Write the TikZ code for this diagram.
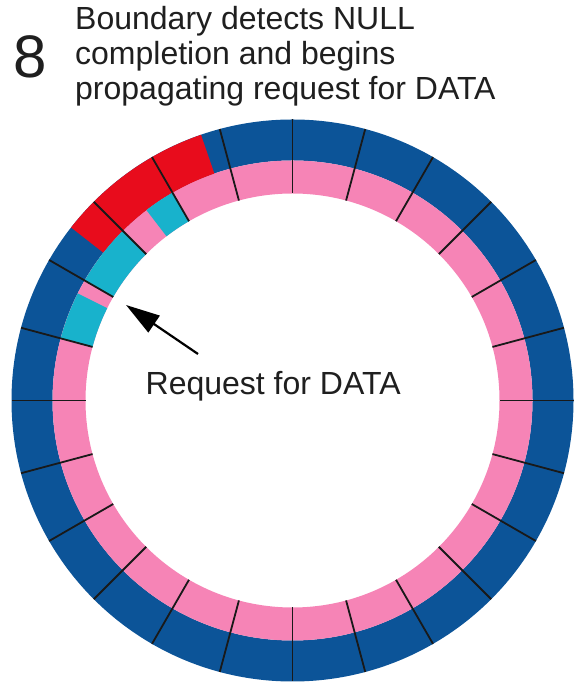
\documentclass[tikz,border=0pt]{standalone}
\usepackage{fontspec}
\setmainfont{Liberation Sans}
\usetikzlibrary{arrows.meta}

\definecolor{ringblue}{RGB}{12,84,152}
\definecolor{ringpink}{RGB}{246,132,182}
\definecolor{ringred}{RGB}{232,12,28}
\definecolor{ringcyan}{RGB}{24,178,204}

% annular sector: colour, start angle, end angle, inner radius, outer radius (pt)
\newcommand\ringpiece[5]{%
  \fill[#1] (#2:#5pt) arc[start angle=#2, end angle=#3, radius=#5pt]
    -- (#3:#4pt) arc[start angle=#3, end angle=#2, radius=#4pt] -- cycle;}

\tikzset{
  divider/.style={black!90, line width=1.8pt},
  pointer/.style={black, line width=2.2pt, -{Triangle[length=34pt, width=20pt]}},
  caption/.style={inner sep=0pt, anchor=base west, font=\fontsize{32}{35}\selectfont, text=black!88},
}

\begin{document}
\begin{tikzpicture}[x=1pt, y=1pt]
\useasboundingbox (0,0) rectangle (573,687);
\fill[white] (0,0) rectangle (573,687);

% heading
\node[caption, font=\fontsize{60}{60}\selectfont] (stepno) at (13,609) {8};
\node[caption] (head1) at (75,657) {Boundary detects NULL};
\node[caption] (head2) at (75,622) {completion and begins};
\node[caption] (head3) at (75,587) {propagating request for DATA};

% the two rings of stages
\begin{scope}[shift={(292.5,286.5)}]
  \ringpiece{ringblue}{0}{360}{240}{281}
  \ringpiece{ringpink}{0}{360}{207}{240}
  % NULL wavefront in the outer ring
  \ringpiece{ringred}{109}{142}{240}{281}
  % request for DATA in the inner ring
  \ringpiece{ringcyan}{120}{127.5}{207}{240}
  \ringpiece{ringcyan}{135}{150}{207}{240}
  \ringpiece{ringcyan}{153.5}{165}{207}{240}
  % stage boundaries
  \foreach \a in {0,15,...,345}
    \draw[divider] (\a:207pt) -- (\a:281pt);
\end{scope}

% label and pointer
\coordinate (arrowtail) at (198,333);
\coordinate (arrowtip) at (126,382);
\draw[pointer] (arrowtail) -- (arrowtip);
\node[caption] (req) at (145.5,292) {Request for DATA};
\end{tikzpicture}
\end{document}
